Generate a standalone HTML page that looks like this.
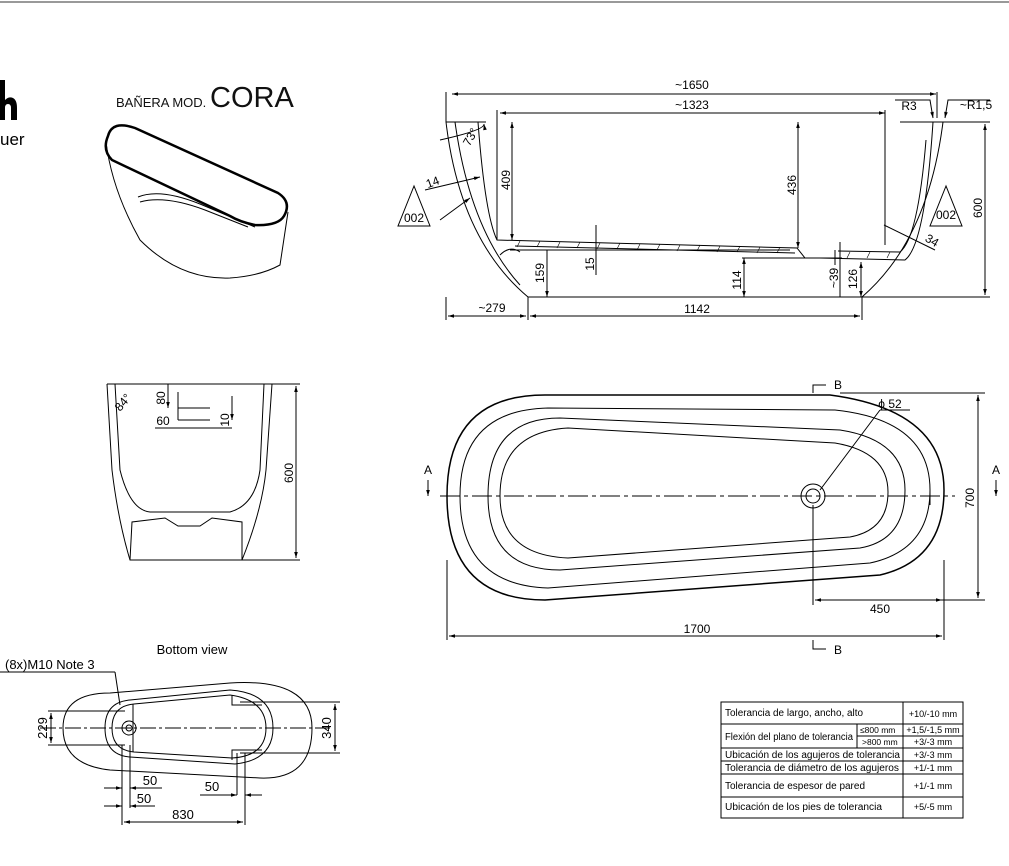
<!DOCTYPE html>
<html><head><meta charset="utf-8"><style>
html,body{margin:0;padding:0;background:#fff;}
svg{display:block;font-family:"Liberation Sans",sans-serif;}
</style></head><body>
<svg width="1009" height="866" viewBox="0 0 1009 866" xmlns="http://www.w3.org/2000/svg">
<defs>
<marker id="a" viewBox="0 0 10 10" refX="10" refY="5" markerWidth="8" markerHeight="6" orient="auto-start-reverse"><path d="M0,2 L10,5 L0,8 z" fill="#000"/></marker>
</defs>
<line x1="0" y1="2" x2="1009" y2="2" stroke="#999" stroke-width="2"/>
<!-- logo -->
<path d="M0,80 L5,80 L5,100 Q9,96 13,98 Q17,100 17,108 L17,120 L11,120 L11,108 Q11,104 8,104 Q5,104 5,108 L5,120 L0,120 z" fill="#000"/>
<text x="0" y="145" font-size="17" fill="#000">uer</text>
<!-- title -->
<text x="116" y="107" font-size="13" fill="#111">BAÑERA MOD.</text>
<text x="210" y="107" font-size="29" fill="#111" font-weight="300">CORA</text>
<!-- iso tub -->
<g fill="none" stroke="#000">
<path d="M108,136 Q112,120 135,128 L278,193 Q292,202 284,216 Q278,226 255,225 Q240,222 230,216 L112,160 Q102,150 108,136 z" stroke-width="2.5"/>
<path d="M106,142 Q112,190 140,240 Q180,280 230,278 Q260,276 280,265 L288,212" stroke-width="1"/>
<path d="M138,197 Q160,188 200,204 L255,227" stroke-width="1"/>
<path d="M140,202 Q165,195 205,210 L248,227" stroke-width="1"/>
</g>
<!-- section view -->
<g fill="none" stroke="#000" stroke-width="1">
<path d="M446,122 Q460,240 528,297 L862,297 Q928,240 943,122"/>
<path d="M455,122 Q470,230 520,285"/>
<path d="M446,122 L486,122 M900,122 L943,122"/>
<path d="M478,122 Q485,215 497,240 L797,248 L805,258 L820,258 L905,260 Q925,245 933,122"/>
<path d="M515,246 L795,253 M838,251 L900,252 Q918,238 926,140"/>
<path d="M510,250 L790,250 M500,255 Q510,245 520,252"/>
<path d="M742,258 L842,258 M835,250 L835,265"/>
<line x1="452" y1="94" x2="936" y2="94" marker-start="url(#a)" marker-end="url(#a)"/>
<line x1="446" y1="92" x2="446" y2="122"/><line x1="937" y1="92" x2="937" y2="118"/>
<line x1="500" y1="113" x2="885" y2="113" marker-start="url(#a)" marker-end="url(#a)"/>
<line x1="497" y1="110" x2="497" y2="240"/><line x1="885" y1="110" x2="885" y2="245"/>
<line x1="512" y1="122" x2="512" y2="240" marker-start="url(#a)" marker-end="url(#a)"/>
<line x1="798" y1="122" x2="798" y2="248" marker-start="url(#a)" marker-end="url(#a)"/>
<line x1="943" y1="122" x2="990" y2="122"/><line x1="862" y1="297" x2="990" y2="297"/>
<line x1="985" y1="124" x2="985" y2="295" marker-start="url(#a)" marker-end="url(#a)"/>
<line x1="547" y1="250" x2="547" y2="297" marker-end="url(#a)"/>
<line x1="596" y1="225" x2="596" y2="275"/>
<line x1="744" y1="258" x2="744" y2="297" marker-start="url(#a)" marker-end="url(#a)"/>
<line x1="840" y1="242" x2="840" y2="297"/>
<line x1="861" y1="262" x2="861" y2="297" marker-start="url(#a)" marker-end="url(#a)"/>
<line x1="446" y1="297" x2="446" y2="320"/><line x1="528" y1="297" x2="528" y2="320"/><line x1="862" y1="297" x2="862" y2="320"/>
<line x1="448" y1="316" x2="526" y2="316" marker-start="url(#a)" marker-end="url(#a)"/>
<line x1="530" y1="316" x2="860" y2="316" marker-start="url(#a)" marker-end="url(#a)"/>
<path d="M440,140 Q485,130 484,124" marker-end="url(#a)"/>
<line x1="425" y1="190" x2="480" y2="177" marker-end="url(#a)"/>
<line x1="440" y1="220" x2="470" y2="198" marker-end="url(#a)"/>
<path d="M895,100 L930,100 L933,118" marker-end="url(#a)"/>
<path d="M990,100 L948,100 L945,118" marker-end="url(#a)"/>
<line x1="884" y1="225" x2="935" y2="250"/>
<polygon points="414,186 398,226 430,226"/><polygon points="946,186 930,226 962,226"/>
</g>
<g stroke="#000" stroke-width="0.6">
<path d="M520,241 l-3,6 M540,241 l-3,6 M560,242 l-3,6 M580,242 l-3,6 M600,243 l-3,6 M620,243 l-3,6 M640,244 l-3,6 M660,244 l-3,6 M680,245 l-3,6 M700,245 l-3,6 M720,246 l-3,6 M740,246 l-3,6 M760,247 l-3,6 M780,247 l-3,6 M850,252 l-3,6 M870,252 l-3,6 M890,252 l-3,6"/>
</g>
<g font-size="12" fill="#000" text-anchor="middle">
<text x="692" y="89">~1650</text><text x="692" y="109">~1323</text>
<text x="909" y="110">R3</text><text x="976" y="109">~R1,5</text>
<text x="492" y="312">~279</text><text x="697" y="313">1142</text>
<text x="414" y="222">002</text><text x="946" y="219">002</text>
<text x="434" y="186" transform="rotate(-20 434 186)">14</text>
<text x="474" y="139" transform="rotate(-60 474 139)">73°</text>
<text x="930" y="244" transform="rotate(30 930 244)">34</text>
<text transform="translate(510,180) rotate(-90)">409</text>
<text transform="translate(796,185) rotate(-90)">436</text>
<text transform="translate(982,208) rotate(-90)">600</text>
<text transform="translate(544,273) rotate(-90)">159</text>
<text transform="translate(594,264) rotate(-90)">15</text>
<text transform="translate(741,280) rotate(-90)">114</text>
<text transform="translate(838,278) rotate(-90)">~39</text>
<text transform="translate(857,279) rotate(-90)">126</text>
</g>
<!-- end view -->
<g fill="none" stroke="#000">
<path d="M107,384 L112,470 Q118,520 130,560 L242,560 Q262,510 266,470 L272,384" />
<path d="M115,384 L120,470 Q130,510 150,512 L230,512 Q255,505 260,470 L264,384"/>
<path d="M130,560 L132,522 L165,518 L178,526 L200,526 L212,518 L242,522 L242,560"/>
<path d="M178,392 L178,420 M178,420 L210,420 M178,408 L210,408"/>
<line x1="107" y1="384" x2="300" y2="384"/><line x1="242" y1="560" x2="300" y2="560"/>
<line x1="296" y1="386" x2="296" y2="558" marker-start="url(#a)" marker-end="url(#a)"/>
<line x1="168" y1="384" x2="168" y2="408" marker-end="url(#a)"/>
<line x1="232" y1="396" x2="232" y2="420" marker-end="url(#a)"/>
<line x1="155" y1="428" x2="232" y2="428"/>
</g>
<g font-size="12" text-anchor="middle">
<text x="126" y="405" transform="rotate(-50 126 405)">84°</text>
<text transform="translate(165,398) rotate(-90)">80</text>
<text x="163" y="425">60</text>
<text transform="translate(229,420) rotate(-90)">10</text>
<text transform="translate(293,473) rotate(-90)">600</text>
</g>
<!-- plan view -->
<g fill="none" stroke="#000">
<path d="M545,395 L830,395 Q944,410 944,490 Q944,560 880,575 L545,600 Q447,600 447,496 Q447,395 545,395 z" stroke-width="1.5"/>
<path d="M548,408 L835,410 Q930,420 930,490 Q930,550 870,563 L548,588 Q460,585 460,496 Q460,410 548,408 z"/>
<path d="M560,418 L840,430 Q905,440 905,490 Q905,540 860,548 L560,570 Q488,570 488,496 Q488,418 560,418 z"/>
<path d="M568,428 L835,443 Q888,452 888,492 Q888,530 850,537 L568,558 Q500,555 500,496 Q500,432 568,428 z"/>
<circle cx="813" cy="496" r="12"/><circle cx="813" cy="496" r="7"/>
<line x1="440" y1="496" x2="955" y2="496" stroke-dasharray="20,4,4,4"/>
<line x1="820" y1="490" x2="880" y2="410"/><line x1="880" y1="410" x2="910" y2="410"/>
<line x1="930" y1="490" x2="930" y2="505"/>
<line x1="840" y1="393" x2="985" y2="393"/><line x1="890" y1="600" x2="985" y2="600"/>
<line x1="978" y1="395" x2="978" y2="598" marker-start="url(#a)" marker-end="url(#a)"/>
<line x1="813" y1="505" x2="813" y2="605"/><line x1="944" y1="560" x2="944" y2="640"/><line x1="447" y1="560" x2="447" y2="640"/>
<line x1="815" y1="600" x2="942" y2="600" marker-start="url(#a)" marker-end="url(#a)"/>
<line x1="449" y1="636" x2="942" y2="636" marker-start="url(#a)" marker-end="url(#a)"/>
<path d="M813,393 L813,385 L826,385" /><path d="M813,640 L813,649 L826,649"/>
<line x1="428" y1="480" x2="428" y2="496" marker-end="url(#a)"/><line x1="996" y1="480" x2="996" y2="496" marker-end="url(#a)"/>
</g>
<g font-size="12" text-anchor="middle">
<text x="838" y="389">B</text><text x="838" y="654">B</text>
<text x="428" y="474">A</text><text x="996" y="474">A</text>
<text x="890" y="408">ϕ 52</text>
<text transform="translate(974,498) rotate(-90)">700</text>
<text x="880" y="613">450</text><text x="697" y="633">1700</text>
</g>
<!-- bottom view -->
<text x="192" y="654" font-size="13" text-anchor="middle">Bottom view</text>
<text x="5" y="669" font-size="13">(8x)M10 Note 3</text>
<g fill="none" stroke="#000">
<line x1="0" y1="672" x2="115" y2="672"/><line x1="115" y1="672" x2="120" y2="705"/>
<path d="M110,693 L230,683 Q312,678 312,728 Q312,780 260,778 L110,770 Q63,765 63,728 Q63,693 110,693 z"/>
<path d="M130,700 L230,690 Q273,693 273,728 Q273,760 235,764 L130,757 Q105,755 105,728 Q105,702 130,700 z"/>
<path d="M134,704 L230,695 Q266,700 266,728 Q266,756 232,758 L134,752 Q112,750 112,728 Q112,706 134,704 z"/>
<circle cx="129" cy="728" r="7"/><circle cx="129" cy="728" r="3"/>
<path d="M232,695 L232,705 L262,705 M232,760 L232,750 L262,750 M133,704 L133,752"/>
<line x1="40" y1="728" x2="330" y2="728" stroke-dasharray="16,3,3,3"/>
<line x1="48" y1="711" x2="125" y2="711"/><line x1="48" y1="745" x2="125" y2="745"/>
<line x1="51" y1="713" x2="51" y2="743" marker-start="url(#a)" marker-end="url(#a)"/>
<line x1="240" y1="702" x2="340" y2="702"/><line x1="240" y1="753" x2="340" y2="753"/>
<line x1="335" y1="704" x2="335" y2="751" marker-start="url(#a)" marker-end="url(#a)"/>
<line x1="122" y1="745" x2="122" y2="825"/><line x1="130" y1="745" x2="130" y2="808"/>
<line x1="237" y1="753" x2="237" y2="795"/><line x1="245" y1="753" x2="245" y2="825"/>
<line x1="104" y1="788" x2="122" y2="788" marker-end="url(#a)"/><line x1="148" y1="788" x2="130" y2="788" marker-end="url(#a)"/><line x1="130" y1="788" x2="162" y2="788"/>
<line x1="104" y1="806" x2="122" y2="806" marker-end="url(#a)"/><line x1="155" y1="806" x2="130" y2="806" marker-end="url(#a)"/>
<line x1="200" y1="795" x2="237" y2="795" marker-end="url(#a)"/><line x1="262" y1="795" x2="245" y2="795" marker-end="url(#a)"/>
<line x1="124" y1="822" x2="243" y2="822" marker-start="url(#a)" marker-end="url(#a)"/>
</g>
<g font-size="13" text-anchor="middle">
<text x="150" y="785">50</text><text x="144" y="803">50</text><text x="212" y="791">50</text><text x="183" y="819">830</text>
<text transform="translate(47,728) rotate(-90)">229</text>
<text transform="translate(331,728) rotate(-90)">340</text>
</g>
<!-- table -->
<g fill="none" stroke="#000" stroke-width="1">
<rect x="721" y="702" width="242" height="116"/>
<line x1="903" y1="702" x2="903" y2="818"/>
<line x1="857" y1="724" x2="857" y2="748"/>
<line x1="721" y1="724" x2="963" y2="724"/>
<line x1="857" y1="736" x2="963" y2="736"/>
<line x1="721" y1="748" x2="963" y2="748"/>
<line x1="721" y1="761" x2="963" y2="761"/>
<line x1="721" y1="774" x2="963" y2="774"/>
<line x1="721" y1="797" x2="963" y2="797"/>
</g>
<g font-size="10" fill="#000">
<text x="725" y="716" textLength="138" lengthAdjust="spacingAndGlyphs">Tolerancia de largo, ancho, alto</text>
<text x="725" y="740" textLength="128" lengthAdjust="spacingAndGlyphs">Flexión del plano de tolerancia</text>
<text x="725" y="758" textLength="175" lengthAdjust="spacingAndGlyphs">Ubicación de los agujeros de tolerancia</text>
<text x="725" y="771" textLength="174" lengthAdjust="spacingAndGlyphs">Tolerancia de diámetro de los agujeros</text>
<text x="725" y="789" textLength="140" lengthAdjust="spacingAndGlyphs">Tolerancia de espesor de pared</text>
<text x="725" y="810" textLength="157" lengthAdjust="spacingAndGlyphs">Ubicación de los pies de tolerancia</text>
<g font-size="8.5"><text x="860" y="733">≤800 mm</text><text x="862" y="745">&gt;800 mm</text></g>
<g text-anchor="middle" font-size="9"><text x="933" y="717">+10/-10 mm</text><text x="933" y="733">+1,5/-1,5 mm</text><text x="933" y="745">+3/-3 mm</text><text x="933" y="758">+3/-3 mm</text><text x="933" y="771">+1/-1 mm</text><text x="933" y="789">+1/-1 mm</text><text x="933" y="810">+5/-5 mm</text></g>
</g>
</svg>
</body></html>
